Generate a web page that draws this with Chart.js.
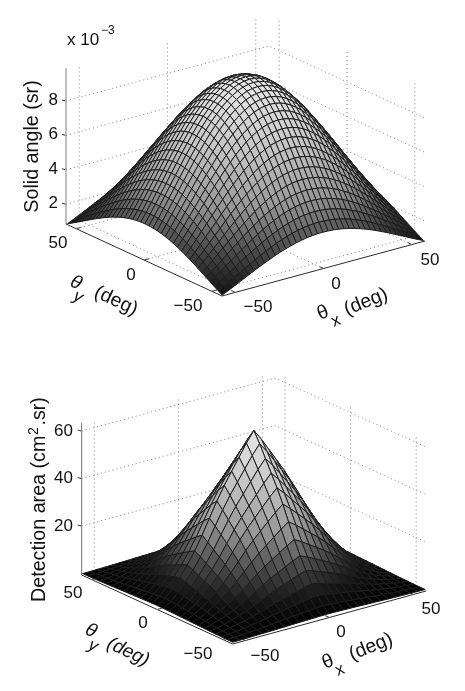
<!DOCTYPE html>
<html>
<head>
<meta charset="utf-8">
<script src="https://cdn.jsdelivr.net/npm/chart.js@4"></script>
<style>
  html, body { margin: 0; padding: 0; background: #fff; }
  #wrap { position: relative; width: 465px; height: 691px; }
  canvas { position: absolute; left: 0; }
</style>
</head>
<body>
<div id="wrap">
  <canvas id="chart-solid" width="465" height="345" style="top:0"></canvas>
  <canvas id="chart-area" width="465" height="346" style="top:345px"></canvas>
</div>
<script>
// values
const axisTicks = [-50, 0, 50];
const solidZTicks = [2, 4, 6, 8];
const areaZTicks = [20, 40, 60];

const solidTheta = [-57,-54,-51,-48,-45,-42,-39,-36,-33,-30,-27,-24,-21,-18,-15,-12,-9,-6,-3,0,
  3,6,9,12,15,18,21,24,27,30,33,36,39,42,45,48,51,54,57];
const solidProfile = [.297,.345,.396,.448,.5,.552,.604,.655,.703,.75,.794,.835,.871,.905,.933,.957,.976,.989,.997,1,
  .997,.989,.976,.957,.933,.905,.871,.835,.794,.75,.703,.655,.604,.552,.5,.448,.396,.345,.297];
const solidPeak = 9.9;

const areaTheta = [-57.2,-52.8,-48.4,-44,-39.6,-35.2,-30.8,-26.4,-22,-17.6,-13.2,-8.8,-4.4,0,
  4.4,8.8,13.2,17.6,22,26.4,30.8,35.2,39.6,44,48.4,52.8,57.2];
const areaProfile = [.015,.05,.1,.16,.23,.31,.4,.5,.6,.69,.77,.85,.93,1,
  .93,.85,.77,.69,.6,.5,.4,.31,.23,.16,.1,.05,.015];
const areaPeak = 63.6;

// gray level of a mesh cell against its height as a share of the peak
const shadeLevels = [0, .1, .3, .45, .7, 1];
const shadeGrays = [0, 20, 90, 150, 195, 232];

const FONT = '"Liberation Sans", Arial, sans-serif';
const LIM = 57.5;

// ── helpers ──────────────────────────────
function projector(view) {
  return (x, y, z) => ({
    x: view.cx + x / LIM * view.hx[0] + y / LIM * view.hy[0],
    y: view.cy + x / LIM * view.hx[1] + y / LIM * view.hy[1] - (z - view.z0) * view.zs,
  });
}

function shade(v) {
  let k = 1;
  while (k < shadeLevels.length - 1 && v > shadeLevels[k]) k++;
  const t = (v - shadeLevels[k - 1]) / (shadeLevels[k] - shadeLevels[k - 1]);
  return Math.round(shadeGrays[k - 1] + t * (shadeGrays[k] - shadeGrays[k - 1]));
}

function lineSet(points, color, width, dash) {
  return {
    data: points,
    showLine: true,
    pointRadius: 0,
    borderColor: color,
    borderWidth: width,
    borderDash: dash || [],
    fill: false,
    tension: 0,
  };
}

// surface quads, front first because chart.js paints dataset 0 last
function surfaceSets(theta, profile, peak, proj) {
  const quads = [];
  const n = theta.length;
  const zAt = (a, b) => peak * profile[a] * profile[b];
  for (let i = 0; i < n - 1; i++) {
    for (let j = 0; j < n - 1; j++) {
      const corners = [[i, j], [i + 1, j], [i + 1, j + 1], [i, j + 1], [i, j]];
      const pts = corners.map(c => proj(theta[c[0]], theta[c[1]], zAt(c[0], c[1])));
      const mean = (zAt(i, j) + zAt(i + 1, j) + zAt(i + 1, j + 1) + zAt(i, j + 1)) / 4;
      const g = shade(mean / peak);
      quads.push({
        depth: i + j,
        set: {
          data: pts,
          showLine: true,
          pointRadius: 0,
          borderColor: '#1c1c1c',
          borderWidth: 1,
          backgroundColor: `rgb(${g},${g},${g})`,
          fill: 'shape',
          tension: 0,
        },
      });
    }
  }
  quads.sort((a, b) => a.depth - b.depth);
  return quads.map(q => q.set);
}

function frameSets(view, proj, zTicks, axisColor, axisWidth) {
  const sets = [];
  const dot = '#808080';
  const dash = [1, 3];
  const floor = view.z0;

  // walls: back planes at x = +LIM and y = +LIM
  zTicks.forEach(z => {
    sets.push(lineSet([proj(-LIM, LIM, z), proj(LIM, LIM, z), proj(LIM, -LIM, z)], dot, 1, dash));
  });
  axisTicks.forEach(t => {
    sets.push(lineSet([proj(t, LIM, floor), proj(t, LIM, view.zTop)], dot, 1, dash));
    sets.push(lineSet([proj(LIM, t, floor), proj(LIM, t, view.zTop)], dot, 1, dash));
    sets.push(lineSet([proj(t, -LIM, floor), proj(t, LIM, floor)], dot, 1, dash));
    sets.push(lineSet([proj(-LIM, t, floor), proj(LIM, t, floor)], dot, 1, dash));
  });

  // solid axes
  const near = proj(-LIM, -LIM, floor);
  const left = proj(-LIM, LIM, floor);
  const right = proj(LIM, -LIM, floor);
  const tickSet = [];
  sets.push(lineSet([left, near, right], '#2a2a2a', 1));
  sets.push(lineSet([left, proj(-LIM, LIM, view.zTop)], axisColor, axisWidth));
  zTicks.forEach(z => {
    const p = proj(-LIM, LIM, z);
    tickSet.push(lineSet([p, { x: p.x - 4, y: p.y - 1 }], '#333', 1));
  });
  axisTicks.forEach(t => {
    const a = proj(t, -LIM, floor);
    tickSet.push(lineSet([a, proj(t, -LIM + 3, floor)], '#333', 1));
    const b = proj(-LIM, t, floor);
    tickSet.push(lineSet([b, proj(-LIM + 3, t, floor)], '#333', 1));
  });
  return sets.concat(tickSet);
}

const textPlugin = {
  id: 'panelText',
  afterDatasetsDraw(chart, args, opts) {
    const c = chart.ctx;
    const sx = chart.scales.x, sy = chart.scales.y;
    opts.items.forEach(t => {
      c.save();
      c.translate(sx.getPixelForValue(t.x), sy.getPixelForValue(t.y));
      c.rotate((t.rot || 0) * Math.PI / 180);
      c.font = `${t.style || ''} ${t.size}px ${t.family || FONT}`;
      c.fillStyle = '#111';
      c.textAlign = t.align || 'center';
      c.textBaseline = t.base || 'middle';
      c.fillText(t.text, 0, 0);
      c.restore();
    });
  },
};

function makePanel(id, top, height, datasets, texts) {
  return new Chart(document.getElementById(id).getContext('2d'), {
    type: 'scatter',
    data: { datasets },
    options: {
      responsive: false,
      animation: false,
      events: [],
      layout: { padding: 0 },
      scales: {
        x: { type: 'linear', display: false, min: 0, max: 465 },
        y: { type: 'linear', display: false, min: top, max: top + height, reverse: true },
      },
      plugins: {
        legend: { display: false },
        tooltip: { enabled: false },
        panelText: { items: texts },
      },
    },
    plugins: [textPlugin],
  });
}

// ── Solid angle panel ─────────────────────
const solidView = { cx: 245.5, cy: 232.5, hx: [101.5, -27.5], hy: [-78, -36], z0: 0.85, zs: 17.2, zTop: 9.9 };
const solidProj = projector(solidView);
const solidTexts = [
  { x: 67, y: 45, text: 'x 10', size: 17, align: 'left', base: 'alphabetic' },
  { x: 101, y: 34, text: '\u22123', size: 12, align: 'left', base: 'alphabetic' },
  { x: 38, y: 146.5, text: 'Solid angle (sr)', size: 19.7, rot: -90, base: 'alphabetic' },
  { x: 58, y: 100, text: '8', size: 17, align: 'right' },
  { x: 58, y: 134, text: '6', size: 17, align: 'right' },
  { x: 58, y: 169, text: '4', size: 17, align: 'right' },
  { x: 58, y: 203, text: '2', size: 17, align: 'right' },
  { x: 58, y: 243, text: '50', size: 17 },
  { x: 131, y: 275, text: '0', size: 17 },
  { x: 188, y: 306, text: '\u221250', size: 17 },
  { x: 258, y: 307, text: '\u221250', size: 17 },
  { x: 336, y: 284, text: '0', size: 17 },
  { x: 430, y: 260, text: '50', size: 17 },
  { x: 76, y: 283, text: '\u03b8', size: 19, style: 'italic', rot: 25 },
  { x: 78, y: 297, text: 'y', size: 17, style: 'italic', rot: 25 },
  { x: 116, y: 301, text: '(deg)', size: 19.5, rot: 25 },
  { x: 323, y: 313, text: '\u03b8', size: 19.5, rot: -22 },
  { x: 336, y: 321, text: 'x', size: 17, rot: -22 },
  { x: 366, y: 302, text: '(deg)', size: 19.5, rot: -22 },
];
makePanel('chart-solid', 0, 345,
  surfaceSets(solidTheta, solidProfile, solidPeak, solidProj)
    .concat(frameSets(solidView, solidProj, solidZTicks, '#a8a8a8', 1.5)),
  solidTexts);

// ── Detection area panel ──────────────────
const areaView = { cx: 253.85, cy: 583, hx: [96.7, -26.5], hy: [-75.5, -34.5], z0: -0.6, zs: 2.375, zTop: 63.4 };
const areaProj = projector(areaView);
const areaTexts = [
  { x: 45, y: 602, text: 'Detection area (cm', size: 19.7, rot: -90, align: 'left', base: 'alphabetic' },
  { x: 38, y: 435, text: '2', size: 14, rot: -90, align: 'left', base: 'alphabetic' },
  { x: 45, y: 425.5, text: '.sr)', size: 19.7, rot: -90, align: 'left', base: 'alphabetic' },
  { x: 73, y: 431, text: '60', size: 17, align: 'right' },
  { x: 73, y: 478, text: '40', size: 17, align: 'right' },
  { x: 73, y: 526, text: '20', size: 17, align: 'right' },
  { x: 73, y: 593, text: '50', size: 17 },
  { x: 143, y: 623, text: '0', size: 17 },
  { x: 198, y: 654, text: '\u221250', size: 17 },
  { x: 265, y: 656, text: '\u221250', size: 17 },
  { x: 341, y: 632, text: '0', size: 17 },
  { x: 431, y: 609, text: '50', size: 17 },
  { x: 91, y: 631, text: '\u03b8', size: 19, style: 'italic', rot: 25 },
  { x: 93, y: 646, text: 'y', size: 17, style: 'italic', rot: 25 },
  { x: 128, y: 652, text: '(deg)', size: 19, style: 'italic', rot: 25 },
  { x: 328, y: 662, text: '\u03b8', size: 19.5, rot: -22 },
  { x: 340, y: 670, text: 'x', size: 17, rot: -22 },
  { x: 371, y: 647, text: '(deg)', size: 19.5, rot: -22 },
];
makePanel('chart-area', 345, 346,
  surfaceSets(areaTheta, areaProfile, areaPeak, areaProj)
    .concat(frameSets(areaView, areaProj, areaZTicks, '#707070', 1)),
  areaTexts);
</script>
</body>
</html>
